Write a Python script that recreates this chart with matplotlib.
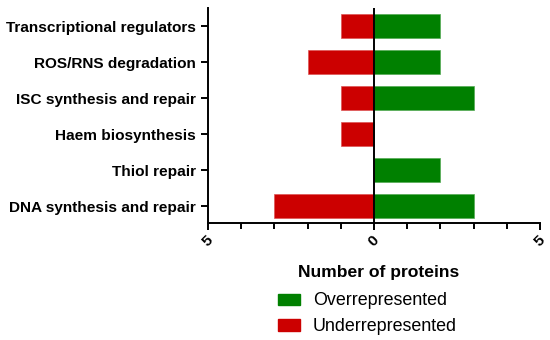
import numpy as np
import matplotlib
matplotlib.use('Agg')
import matplotlib.pyplot as plt
import matplotlib.patches as mpatches
from matplotlib.ticker import MultipleLocator, FuncFormatter

plt.rcParams['font.family'] = ['Liberation Sans', 'DejaVu Sans']

# bottom to top
categories = ['DNA synthesis and repair', 'Thiol repair', 'Haem biosynthesis',
              'ISC synthesis and repair', 'ROS/RNS degradation',
              'Transcriptional regulators']
over = [3, 2, 0, 3, 2, 2]
under = [3, 0, 1, 1, 2, 1]

GREEN = '#008000'
RED = '#cc0000'

fig = plt.figure(figsize=(5.5, 3.4), dpi=100)
ax = fig.add_axes([0.378, 0.344, 0.604, 0.632])

y = np.arange(len(categories))
ax.barh(y, over, height=0.66, color=GREEN, edgecolor='#55aa55', linewidth=0.5)
ax.barh(y, [-u for u in under], height=0.66, color=RED, edgecolor='#dd5555', linewidth=0.5)
ax.axvline(0, color='black', linewidth=1.4)

ax.set_xlim(-5, 5)
ax.set_ylim(-0.47, len(categories) - 0.5)
ax.set_yticks(y)
ax.set_yticklabels(categories, fontsize=11.1, fontweight='bold')

ax.xaxis.set_major_locator(MultipleLocator(5))
ax.xaxis.set_minor_locator(MultipleLocator(1))
ax.xaxis.set_major_formatter(FuncFormatter(lambda v, p: f'{abs(int(round(v)))}'))
for lab in ax.get_xticklabels():
    lab.set_rotation(45)
    lab.set_fontweight('bold')
    lab.set_fontsize(11.1)
    lab.set_ha('center')
    lab.set_va('top')

ax.spines['top'].set_visible(False)
ax.spines['right'].set_visible(False)
ax.spines['left'].set_linewidth(1.4)
ax.spines['bottom'].set_linewidth(1.4)
ax.tick_params(axis='both', which='major', width=1.4, length=5)
ax.tick_params(axis='x', which='minor', width=1.4, length=4)
ax.tick_params(axis='x', which='major', pad=2)

fig.text(0.689, 0.198, 'Number of proteins', ha='center', va='center',
         fontsize=12.6, fontweight='bold')
handles = [mpatches.Patch(color=GREEN, label='Overrepresented'),
           mpatches.Patch(color=RED, label='Underrepresented')]
fig.legend(handles=handles, loc='upper left', bbox_to_anchor=(0.505, 0.14),
           frameon=False, fontsize=12.9, borderpad=0, borderaxespad=0,
           handlelength=1.23, handleheight=0.58, handletextpad=0.73,
           labelspacing=0.5)

fig.savefig('out.png', dpi=100)
